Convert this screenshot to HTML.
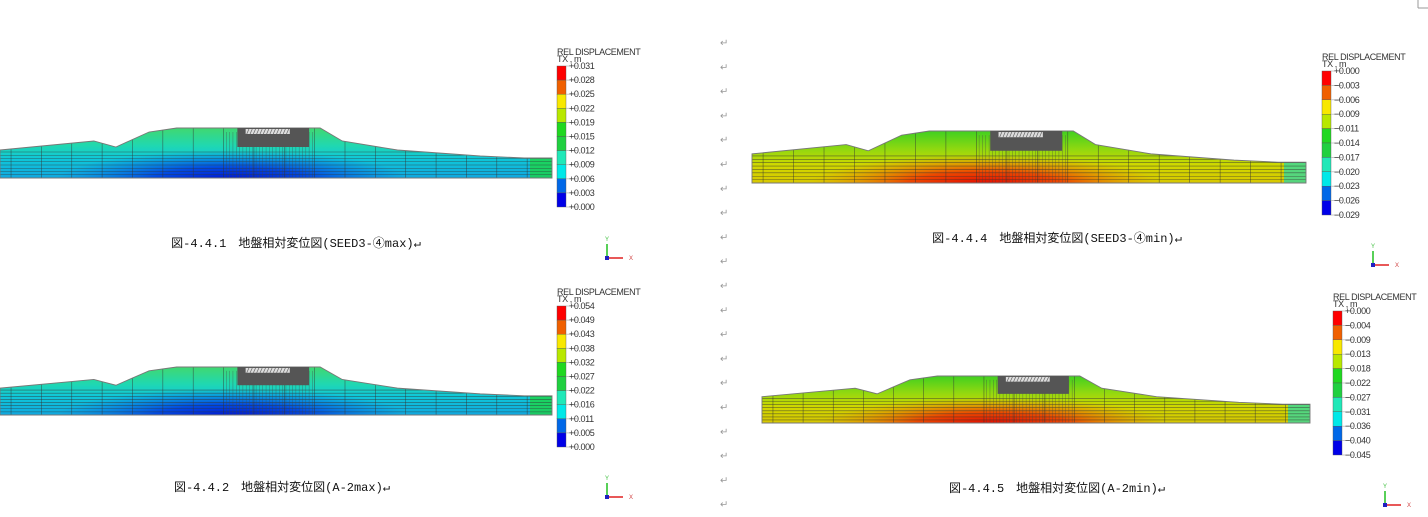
<!DOCTYPE html>
<html><head><meta charset="utf-8">
<style>
html,body{margin:0;padding:0;background:#fff;width:1428px;height:517px;overflow:hidden}
svg{display:block}
text{font-family:"Liberation Sans","Noto Sans CJK JP",sans-serif}
.cap{font-family:"Liberation Mono","Noto Sans CJK JP",monospace;font-size:12px;fill:#111}
.lg{font-size:9px;fill:#333;letter-spacing:-0.4px}
</style></head>
<body>
<svg id="s" width="1428" height="517" viewBox="0 0 1428 517" xmlns="http://www.w3.org/2000/svg">
<defs></defs>
<line x1="1418" y1="0" x2="1418" y2="8" stroke="#999" stroke-width="1"/>
<line x1="1418" y1="8" x2="1428" y2="8" stroke="#999" stroke-width="1"/>
</svg>
<script>
const NS='http://www.w3.org/2000/svg';
const svg=document.getElementById('s');
const defs=svg.querySelector('defs');
const bandColors=['#ff0000','#f06000','#f8e800','#b8e800','#20d820','#20d040','#20e8b8','#00e8e8','#0068e8','#0000e8'];
const legend1=['+0.031','+0.028','+0.025','+0.022','+0.019','+0.015','+0.012','+0.009','+0.006','+0.003','+0.000'];
const legend2=['+0.054','+0.049','+0.043','+0.038','+0.032','+0.027','+0.022','+0.016','+0.011','+0.005','+0.000'];
const legend3=['+0.000','\u22120.003','\u22120.006','\u22120.009','\u22120.011','\u22120.014','\u22120.017','\u22120.020','\u22120.023','\u22120.026','\u22120.029'];
const legend4=['+0.000','\u22120.004','\u22120.009','\u22120.013','\u22120.018','\u22120.022','\u22120.027','\u22120.031','\u22120.036','\u22120.040','\u22120.045'];
const profileX=[0,0.17,0.21,0.27,0.32,0.43,0.58,0.62,0.72,0.87,0.95,1];
const profileH=[0.56,0.74,0.62,0.92,1,1,1,0.74,0.56,0.44,0.40,0.40];
const captions=['図-4.4.1　地盤相対変位図(SEED3-④max)↵','図-4.4.2　地盤相対変位図(A-2max)↵','図-4.4.4　地盤相対変位図(SEED3-④min)↵','図-4.4.5　地盤相対変位図(A-2min)↵'];
const panels=[
 {x0:0,x1:552,yb:178,ht:50,lx:557,ly:66,lh:141,leg:legend1,cx:296,cy:243,tx:607,ty:258,kind:'max'},
 {x0:0,x1:552,yb:415,ht:48,lx:557,ly:306,lh:141,leg:legend2,cx:282,cy:487,tx:607,ty:497,kind:'max'},
 {x0:752,x1:1306,yb:183,ht:52,lx:1322,ly:71,lh:144,leg:legend3,cx:1057,cy:238,tx:1373,ty:265,kind:'min'},
 {x0:762,x1:1310,yb:423,ht:47,lx:1333,ly:311,lh:144,leg:legend4,cx:1057,cy:488,tx:1385,ty:505,kind:'min'}
];
function el(t,a,p){const e=document.createElementNS(NS,t);for(const k in a)e.setAttribute(k,a[k]);(p||svg).appendChild(e);return e;}
function grad(id,stops,radial){const g=el(radial?'radialGradient':'linearGradient',radial?{id:id,cx:'0.5',cy:'0.5',r:'0.5'}:{id:id,x1:0,y1:0,x2:0,y2:1},defs);stops.forEach(s=>el('stop',{offset:s[0],'stop-color':s[1],'stop-opacity':s[2]==null?1:s[2]},g));}
grad('gmax',[[0,'#40d870'],[0.35,'#20d8b0'],[0.6,'#10c8d8'],[1,'#10a8e0']]);
grad('rmax',[[0,'#0010d0',1],[0.45,'#0038e0',0.85],[1,'#0060e0',0]],true);
grad('gmin',[[0,'#40d020'],[0.35,'#90d810'],[0.65,'#d0d800'],[1,'#d8c800']]);
grad('rmin',[[0,'#e00000',1],[0.45,'#f03000',0.85],[1,'#f08000',0]],true);
panels.forEach((p,i)=>{
 const g=el('g',{});
 
 
 const W=p.x1-p.x0;
 const X=f=>p.x0+f*W, Y=h=>p.yb-h*p.ht;
 let pts=profileX.map((f,k)=>X(f)+','+Y(profileH[k])).join(' ');
 pts+=' '+p.x1+','+p.yb+' '+p.x0+','+p.yb;
 const cid='clip'+i;
 const cp=el('clipPath',{id:cid},defs);el('polygon',{points:pts},cp);
 const mesh=el('g',{'clip-path':'url(#'+cid+')'},g);
 
 
 el('rect',{x:p.x0,y:p.yb-p.ht,width:W,height:p.ht,fill:'url(#g'+p.kind+')'},mesh);
 el('ellipse',{cx:X(0.42),cy:p.yb+p.ht*0.05,rx:W*0.32,ry:p.ht*0.6,fill:'url(#r'+p.kind+')'},mesh);
 el('rect',{x:p.x1-22,y:p.yb-p.ht*0.42,width:22,height:p.ht*0.42,fill:p.kind==='max'?'#20d830':'#20d8b0',opacity:0.7},mesh);
 for(let k=1;k<9;k++){const yy=p.yb-k*p.ht*0.065;el('line',{x1:p.x0,x2:p.x1,y1:yy,y2:yy,stroke:'#333','stroke-width':0.6,opacity:0.7},mesh);}
 for(let f=0.02;f<1;f+=0.055){el('line',{x1:X(f),x2:X(f),y1:p.yb-p.ht,y2:p.yb,stroke:'#333','stroke-width':0.6,opacity:0.7},mesh);}
 for(let f=0.41;f<0.57;f+=0.006){el('line',{x1:X(f),x2:X(f),y1:Y(0.92),y2:p.yb,stroke:'#444','stroke-width':0.5,opacity:0.6},mesh);}
 el('polygon',{points:pts,fill:'none',stroke:'#777','stroke-width':0.9},g);
 const b=el('rect',{x:X(0.43),y:Y(1),width:W*0.13,height:p.ht*0.38,fill:'#555'},g);
 
 
 el('rect',{x:X(0.445),y:Y(0.98),width:W*0.08,height:p.ht*0.1,fill:'#ddd'},g);
 for(let f=0.447;f<0.525;f+=0.006){el('line',{x1:X(f),x2:X(f+0.004),y1:Y(0.88),y2:Y(0.98),stroke:'#666','stroke-width':0.7},g);}
 const lg=el('g',{},g);
 
 
 const t1=el('text',{x:p.lx,y:p.ly-11,class:'lg'},lg);t1.textContent='REL DISPLACEMENT';
 const t2=el('text',{x:p.lx,y:p.ly-4,class:'lg','font-size':8},lg);t2.textContent='TX , m';
 const bh=p.lh/bandColors.length;
 bandColors.forEach((c,k)=>{const r=el('rect',{x:p.lx,y:p.ly+k*bh,width:9,height:bh,fill:c,stroke:'#555','stroke-width':0.4},lg);
  
  });
 p.leg.forEach((v,k)=>{const yy=p.ly+k*bh;el('line',{x1:p.lx+9,x2:p.lx+20,y1:yy,y2:yy,stroke:'#bbb','stroke-width':0.8},lg);
  const t=el('text',{x:p.lx+12,y:yy+3,class:'lg'},lg);t.textContent=v;
  
  });
 const c=el('text',{x:p.cx,y:p.cy+4,'text-anchor':'middle',class:'cap'},g);c.textContent=captions[i];
 
 
 const tr=el('g',{},g);
 
 
 el('line',{x1:p.tx,y1:p.ty,x2:p.tx,y2:p.ty-14,stroke:'#20c020','stroke-width':1.5},tr);
 el('line',{x1:p.tx,y1:p.ty,x2:p.tx+16,y2:p.ty,stroke:'#e02020','stroke-width':1.5},tr);
 el('rect',{x:p.tx-2,y:p.ty-2,width:4,height:4,fill:'#2020c0'},tr);
 const ty=el('text',{x:p.tx-2,y:p.ty-17,'font-size':6,fill:'#40c040'},tr);ty.textContent='Y';
 const tx=el('text',{x:p.tx+22,y:p.ty+2,'font-size':6,fill:'#d04040'},tr);tx.textContent='X';
});
for(let k=0;k<20;k++){const t=el('text',{x:720,y:46+k*24.3,'font-size':10,fill:'#999'});t.textContent='↵';
 
 }
</script>
</body></html>
